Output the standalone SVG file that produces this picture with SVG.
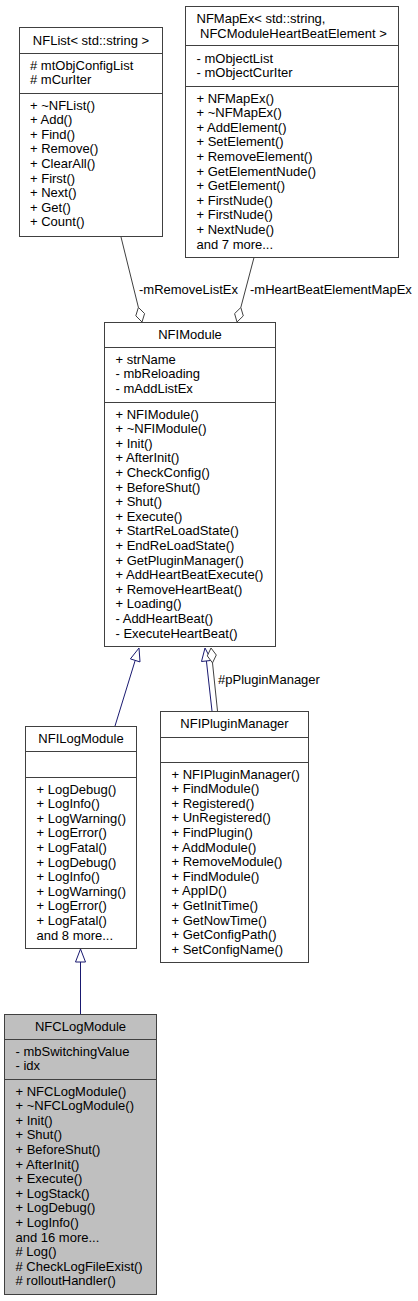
<svg xmlns="http://www.w3.org/2000/svg" width="418" height="1301" viewBox="0 0 418 1301">
<style>
text{font-family:"Liberation Sans",Arial,sans-serif;font-size:13px;fill:#000}
.box{fill:#fff;stroke:#404040;stroke-width:1}
.cur{fill:#bfbfbf;stroke:#404040;stroke-width:1}
.sep{stroke:#404040;stroke-width:1}
.t{text-anchor:middle}
.agg{stroke:#404040;stroke-width:1;fill:none}
.dia{stroke:#404040;stroke-width:1;fill:#fff}
.inh{stroke:#191970;stroke-width:1;fill:none}
.tri{stroke:#191970;stroke-width:1;fill:#fff}
</style>
<rect width="418" height="1301" fill="#fff"/>
<g id="connectors">
<line class="agg" x1="121" y1="237" x2="138.4" y2="307.4"/>
<polygon class="dia" points="142,322 144.6,313.6 138.4,307.4 135.8,315.8"/>
<line class="agg" x1="254" y1="257.5" x2="240.8" y2="307.5"/>
<polygon class="dia" points="237,322 243.3,315.9 240.8,307.5 234.6,313.6"/>
<text x="139" y="293.5">-mRemoveListEx</text>
<text x="250" y="293.5">-mHeartBeatElementMapEx</text>
<line class="inh" x1="115" y1="726" x2="135.2" y2="660.4"/>
<polygon class="tri" points="139,648 140,661.9 130.4,658.9"/>
<line class="inh" x1="212" y1="711" x2="206.4" y2="660.9"/>
<polygon class="tri" points="205,648 211.4,660.4 201.5,661.5"/>
<line class="agg" x1="217.5" y1="711" x2="212.5" y2="662.9"/>
<polygon class="dia" points="211,648 216.3,655 212.5,662.9 207.3,655.9"/>
<text x="218" y="683.5">#pPluginManager</text>
<line class="inh" x1="80.5" y1="1014" x2="80.5" y2="962"/>
<polygon class="tri" points="80.5,949 85.5,962 75.5,962"/>
</g>
<g id="NFList">
<rect class="box" x="19.5" y="27.5" width="143" height="209"/>
<line class="sep" x1="19.5" y1="53.5" x2="162.5" y2="53.5"/>
<line class="sep" x1="19.5" y1="93.5" x2="162.5" y2="93.5"/>
<text class="t" x="91" y="44.5">NFList&lt; std::string &gt;</text>
<text x="30" y="69.5"># mtObjConfigList<tspan x="30" dy="14.6"># mCurIter</tspan></text>
<text x="30" y="109.5">+ ~NFList()<tspan x="30" dy="14.6">+ Add()</tspan><tspan x="30" dy="14.6">+ Find()</tspan><tspan x="30" dy="14.6">+ Remove()</tspan><tspan x="30" dy="14.6">+ ClearAll()</tspan><tspan x="30" dy="14.6">+ First()</tspan><tspan x="30" dy="14.6">+ Next()</tspan><tspan x="30" dy="14.6">+ Get()</tspan><tspan x="30" dy="14.6">+ Count()</tspan></text>
</g>
<g id="NFMapEx">
<rect class="box" x="185.5" y="6.5" width="213" height="251"/>
<line class="sep" x1="185.5" y1="45.5" x2="398.5" y2="45.5"/>
<line class="sep" x1="185.5" y1="86.5" x2="398.5" y2="86.5"/>
<text x="196.5" y="23">NFMapEx&lt; std::string,<tspan x="200" dy="14.6">NFCModuleHeartBeatElement &gt;</tspan></text>
<text x="196.5" y="62.5">- mObjectList<tspan x="196.5" dy="14.6">- mObjectCurIter</tspan></text>
<text x="196.5" y="102.5">+ NFMapEx()<tspan x="196.5" dy="14.6">+ ~NFMapEx()</tspan><tspan x="196.5" dy="14.6">+ AddElement()</tspan><tspan x="196.5" dy="14.6">+ SetElement()</tspan><tspan x="196.5" dy="14.6">+ RemoveElement()</tspan><tspan x="196.5" dy="14.6">+ GetElementNude()</tspan><tspan x="196.5" dy="14.6">+ GetElement()</tspan><tspan x="196.5" dy="14.6">+ FirstNude()</tspan><tspan x="196.5" dy="14.6">+ FirstNude()</tspan><tspan x="196.5" dy="14.6">+ NextNude()</tspan><tspan x="196.5" dy="14.6">and 7 more...</tspan></text>
</g>
<g id="NFIModule">
<rect class="box" x="104.5" y="322.5" width="171" height="324"/>
<line class="sep" x1="104.5" y1="347.5" x2="275.5" y2="347.5"/>
<line class="sep" x1="104.5" y1="402.5" x2="275.5" y2="402.5"/>
<text class="t" x="190" y="338.5">NFIModule</text>
<text x="115.5" y="363.5">+ strName<tspan x="115.5" dy="14.6">- mbReloading</tspan><tspan x="115.5" dy="14.6">- mAddListEx</tspan></text>
<text x="115.5" y="418.5">+ NFIModule()<tspan x="115.5" dy="14.6">+ ~NFIModule()</tspan><tspan x="115.5" dy="14.6">+ Init()</tspan><tspan x="115.5" dy="14.6">+ AfterInit()</tspan><tspan x="115.5" dy="14.6">+ CheckConfig()</tspan><tspan x="115.5" dy="14.6">+ BeforeShut()</tspan><tspan x="115.5" dy="14.6">+ Shut()</tspan><tspan x="115.5" dy="14.6">+ Execute()</tspan><tspan x="115.5" dy="14.6">+ StartReLoadState()</tspan><tspan x="115.5" dy="14.6">+ EndReLoadState()</tspan><tspan x="115.5" dy="14.6">+ GetPluginManager()</tspan><tspan x="115.5" dy="14.6">+ AddHeartBeatExecute()</tspan><tspan x="115.5" dy="14.6">+ RemoveHeartBeat()</tspan><tspan x="115.5" dy="14.6">+ Loading()</tspan><tspan x="115.5" dy="14.6">- AddHeartBeat()</tspan><tspan x="115.5" dy="14.6">- ExecuteHeartBeat()</tspan></text>
</g>
<g id="NFILogModule">
<rect class="box" x="25.5" y="726.5" width="111" height="222"/>
<line class="sep" x1="25.5" y1="751.5" x2="136.5" y2="751.5"/>
<line class="sep" x1="25.5" y1="777.5" x2="136.5" y2="777.5"/>
<text class="t" x="81" y="742.5">NFILogModule</text>
<text x="36.5" y="793.5">+ LogDebug()<tspan x="36.5" dy="14.6">+ LogInfo()</tspan><tspan x="36.5" dy="14.6">+ LogWarning()</tspan><tspan x="36.5" dy="14.6">+ LogError()</tspan><tspan x="36.5" dy="14.6">+ LogFatal()</tspan><tspan x="36.5" dy="14.6">+ LogDebug()</tspan><tspan x="36.5" dy="14.6">+ LogInfo()</tspan><tspan x="36.5" dy="14.6">+ LogWarning()</tspan><tspan x="36.5" dy="14.6">+ LogError()</tspan><tspan x="36.5" dy="14.6">+ LogFatal()</tspan><tspan x="36.5" dy="14.6">and 8 more...</tspan></text>
</g>
<g id="NFIPluginManager">
<rect class="box" x="160.5" y="711.5" width="148" height="251"/>
<line class="sep" x1="160.5" y1="737.5" x2="308.5" y2="737.5"/>
<line class="sep" x1="160.5" y1="762.5" x2="308.5" y2="762.5"/>
<text class="t" x="234.5" y="727.5">NFIPluginManager</text>
<text x="171.5" y="778.5">+ NFIPluginManager()<tspan x="171.5" dy="14.6">+ FindModule()</tspan><tspan x="171.5" dy="14.6">+ Registered()</tspan><tspan x="171.5" dy="14.6">+ UnRegistered()</tspan><tspan x="171.5" dy="14.6">+ FindPlugin()</tspan><tspan x="171.5" dy="14.6">+ AddModule()</tspan><tspan x="171.5" dy="14.6">+ RemoveModule()</tspan><tspan x="171.5" dy="14.6">+ FindModule()</tspan><tspan x="171.5" dy="14.6">+ AppID()</tspan><tspan x="171.5" dy="14.6">+ GetInitTime()</tspan><tspan x="171.5" dy="14.6">+ GetNowTime()</tspan><tspan x="171.5" dy="14.6">+ GetConfigPath()</tspan><tspan x="171.5" dy="14.6">+ SetConfigName()</tspan></text>
</g>
<g id="NFCLogModule">
<rect class="cur" x="4.5" y="1014.5" width="152" height="280"/>
<line class="sep" x1="4.5" y1="1039.5" x2="156.5" y2="1039.5"/>
<line class="sep" x1="4.5" y1="1079.5" x2="156.5" y2="1079.5"/>
<text class="t" x="80.5" y="1030.5">NFCLogModule</text>
<text x="15.5" y="1055.5">- mbSwitchingValue<tspan x="15.5" dy="14.6">- idx</tspan></text>
<text x="15.5" y="1095.5">+ NFCLogModule()<tspan x="15.5" dy="14.6">+ ~NFCLogModule()</tspan><tspan x="15.5" dy="14.6">+ Init()</tspan><tspan x="15.5" dy="14.6">+ Shut()</tspan><tspan x="15.5" dy="14.6">+ BeforeShut()</tspan><tspan x="15.5" dy="14.6">+ AfterInit()</tspan><tspan x="15.5" dy="14.6">+ Execute()</tspan><tspan x="15.5" dy="14.6">+ LogStack()</tspan><tspan x="15.5" dy="14.6">+ LogDebug()</tspan><tspan x="15.5" dy="14.6">+ LogInfo()</tspan><tspan x="15.5" dy="14.6">and 16 more...</tspan><tspan x="15.5" dy="14.6"># Log()</tspan><tspan x="15.5" dy="14.6"># CheckLogFileExist()</tspan><tspan x="15.5" dy="14.6"># rolloutHandler()</tspan></text>
</g>
</svg>
